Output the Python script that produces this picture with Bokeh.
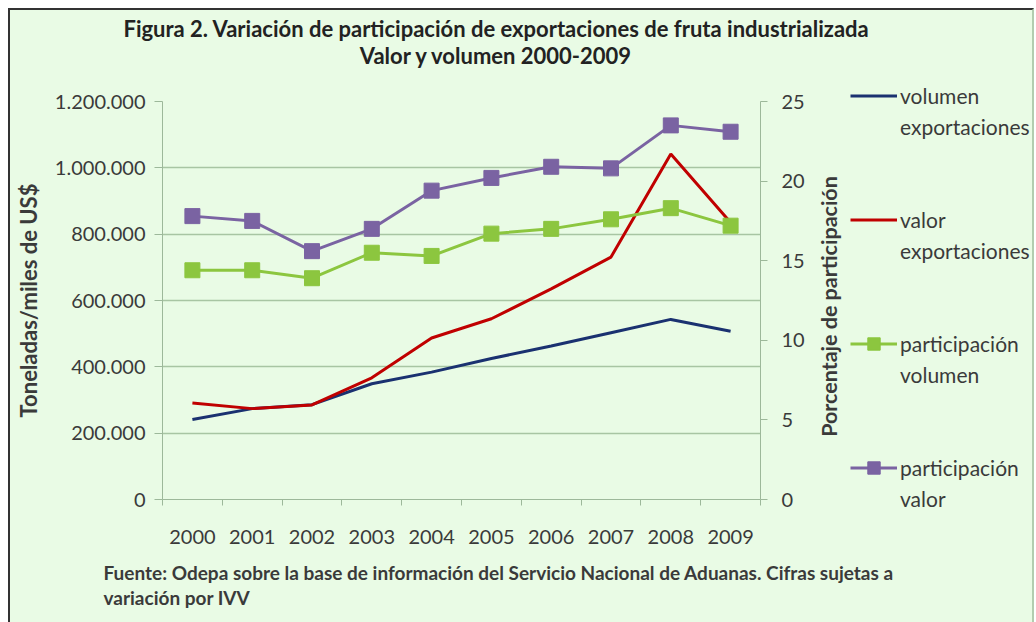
import math
from bokeh.plotting import figure
from bokeh.layouts import column, row
from bokeh.models import Range1d, LinearAxis, FixedTicker, Label, Legend, LegendItem, Plot
from bokeh.embed import file_html
from bokeh.resources import INLINE

# ---------------- data ----------------
years = ["2000", "2001", "2002", "2003", "2004", "2005", "2006", "2007", "2008", "2009"]
volumen_exportaciones = [241000, 274000, 286000, 349000, 384000, 425000, 463000, 503000, 543000, 507000]
valor_exportaciones = [291000, 274000, 285000, 367000, 487000, 545000, 635000, 731000, 1042000, 835000]
participacion_volumen = [14.4, 14.4, 13.9, 15.5, 15.3, 16.7, 17.0, 17.6, 18.3, 17.2]
participacion_valor = [17.8, 17.5, 15.6, 17.0, 19.4, 20.2, 20.9, 20.8, 23.5, 23.1]

left_ticks = [0, 200000, 400000, 600000, 800000, 1000000, 1200000]
left_tick_labels = ["0", "200.000", "400.000", "600.000", "800.000", "1.000.000", "1.200.000"]
right_ticks = [0, 5, 10, 15, 20, 25]

title_lines = ["Figura 2. Variación de participación de exportaciones de fruta industrializada",
               "Valor y volumen 2000-2009"]
footer_lines = ["Fuente: Odepa  sobre la  base de información del Servicio Nacional de Aduanas. Cifras sujetas a",
                "variación por IVV"]
y_label = "Toneladas/miles de US$"
y2_label = "Porcentaje de participación"
legend_labels = [("volumen", "exportaciones"), ("valor", "exportaciones"),
                 ("participación", "volumen"), ("participación", "valor")]

# ---------------- style ----------------
FONT = "Lato"
BG = "#E9FBE5"
TEXT = "#3A3A3A"
TITLE_C = "#222222"
GRID = "#A8C5A3"
AXIS = "#9DB89A"
C_VOL = "#1A3170"
C_VAL = "#C00000"
C_PVOL = "#8CC63F"
C_PVAL = "#7A63A2"

W_ALL = 1022
H_TOP, H_MID, H_BOT = 60, 485, 67
W_MAIN, W_LEG = 802, 220
HAS_FRAME_ALIGN = "frame_align" in Plot.properties()


def blank_fig(w, h):
    f = figure(frame_width=w, frame_height=h, output_backend="svg", toolbar_location=None,
               title=None, x_axis_type=None, y_axis_type=None,
               x_range=Range1d(0, w), y_range=Range1d(0, h),
               min_border=0, min_border_left=0, min_border_right=0, min_border_top=0,
               min_border_bottom=0, background_fill_color=BG, border_fill_color=BG,
               outline_line_color=None)
    f.xgrid.visible = False
    f.ygrid.visible = False
    if HAS_FRAME_ALIGN:
        f.frame_align = False
    return f


# ---------------- title strip ----------------
top = blank_fig(W_ALL, H_TOP)
for txt, yy in zip(title_lines, [42, 15]):
    top.add_layout(Label(x=486, y=yy, text=txt, text_align="center", text_baseline="middle",
                         text_font=FONT, text_font_style="bold", text_font_size="22px",
                         text_color=TITLE_C))

# ---------------- main chart ----------------
x = list(range(len(years)))

p = figure(width=W_MAIN, height=H_MID, output_backend="svg", toolbar_location=None, title=None,
           x_range=Range1d(-0.5, len(years) - 0.5), y_range=Range1d(0, 1200000),
           min_border_left=152, min_border_right=52, min_border_top=31, min_border_bottom=56,
           background_fill_color=BG, border_fill_color=BG, outline_line_color=None)
if HAS_FRAME_ALIGN:
    p.frame_align = False
p.extra_y_ranges = {"pct": Range1d(0, 25)}

lt = FixedTicker(ticks=left_ticks)
p.yaxis.ticker = lt
p.ygrid.ticker = lt
p.yaxis.major_label_overrides = dict(zip(left_ticks, left_tick_labels))
p.yaxis.axis_label = y_label
p.yaxis.axis_label_text_font = FONT
p.yaxis.axis_label_text_font_style = "bold"
p.yaxis.axis_label_text_font_size = "22px"
p.yaxis.axis_label_text_color = TEXT
p.yaxis.axis_label_standoff = 10
p.yaxis.major_label_text_font = FONT
p.yaxis.major_label_text_font_size = "20px"
p.yaxis.major_label_text_color = TEXT
p.yaxis.major_tick_out = 8
p.yaxis.major_tick_in = 0
p.yaxis.major_label_standoff = 9
p.yaxis.minor_tick_line_color = None
p.yaxis.axis_line_color = AXIS
p.yaxis.major_tick_line_color = AXIS

p.xaxis.ticker = FixedTicker(ticks=x, minor_ticks=[i - 0.5 for i in range(len(years) + 1)])
p.xaxis.major_label_overrides = {i: yr for i, yr in enumerate(years)}
p.xaxis.major_tick_line_color = None
p.xaxis.major_tick_out = 0
p.xaxis.major_tick_in = 0
p.xaxis.minor_tick_in = 0
p.xaxis.minor_tick_out = 6
p.xaxis.minor_tick_line_color = AXIS
p.xaxis.axis_line_color = AXIS
p.xaxis.major_label_standoff = 24
p.xaxis.major_label_text_font = FONT
p.xaxis.major_label_text_font_size = "20px"
p.xaxis.major_label_text_color = TEXT

ax2 = LinearAxis(y_range_name="pct", ticker=FixedTicker(ticks=right_ticks),
                 major_label_text_font=FONT, major_label_text_font_size="20px",
                 major_label_text_color=TEXT, major_tick_out=7, major_tick_in=0,
                 major_label_standoff=14, minor_tick_line_color=None,
                 axis_line_color=AXIS, major_tick_line_color=AXIS)
p.add_layout(ax2, "right")

p.ygrid.grid_line_color = GRID
p.ygrid.grid_line_width = 1.5
p.xgrid.grid_line_color = None

p.line(x, volumen_exportaciones, line_color=C_VOL, line_width=3)
p.line(x, valor_exportaciones, line_color=C_VAL, line_width=3)
p.line(x, participacion_volumen, y_range_name="pct", line_color=C_PVOL, line_width=3)
p.scatter(x, participacion_volumen, y_range_name="pct", marker="square", size=15,
          fill_color=C_PVOL, line_color=C_PVOL)
p.line(x, participacion_valor, y_range_name="pct", line_color=C_PVAL, line_width=3)
p.scatter(x, participacion_valor, y_range_name="pct", marker="square", size=15,
          fill_color=C_PVAL, line_color=C_PVAL)

# ---------------- right-axis title + legend strip ----------------
leg = blank_fig(W_LEG, H_MID)
leg.add_layout(Label(x=16, y=H_MID - 236, text=y2_label, angle=math.pi / 2,
                     text_align="center", text_baseline="middle", text_font=FONT,
                     text_font_style="bold", text_font_size="21.5px", text_color=TEXT))

# legend proxies: placed outside the visible strip so only their legend keys show
OFF = [-50, -40]
e1 = leg.line(OFF, OFF, line_color=C_VOL, line_width=3)
e2 = leg.line(OFF, OFF, line_color=C_VAL, line_width=3)
e3 = leg.line(OFF, OFF, line_color=C_PVOL, line_width=3)
e3m = leg.scatter(OFF, OFF, marker="square", size=15, fill_color=C_PVOL, line_color=C_PVOL)
e4 = leg.line(OFF, OFF, line_color=C_PVAL, line_width=3)
e4m = leg.scatter(OFF, OFF, marker="square", size=15, fill_color=C_PVAL, line_color=C_PVAL)
blank = leg.line([], [], line_alpha=0)

series_renderers = [[e1], [e2], [e3, e3m], [e4, e4m]]
items = []
for k, ((first, second), rends) in enumerate(zip(legend_labels, series_renderers)):
    items.append(LegendItem(label=first, renderers=rends))
    items.append(LegendItem(label=second, renderers=[blank]))
    if k < len(legend_labels) - 1:
        items.append(LegendItem(label=" ", renderers=[blank]))
        items.append(LegendItem(label="  ", renderers=[blank]))

ITEM_H = 31
legend_h = ITEM_H * len(items)
legend = Legend(items=items, location=(38, H_MID - 9.5 - legend_h), orientation="vertical",
                background_fill_alpha=0, border_line_color=None, padding=0, margin=0,
                spacing=0, glyph_width=47, glyph_height=ITEM_H, label_height=ITEM_H,
                label_standoff=3, label_text_font=FONT, label_text_font_size="21px",
                label_text_color=TEXT)
leg.add_layout(legend)

# ---------------- footer strip ----------------
bot = blank_fig(W_ALL, H_BOT)
for txt, yy in zip(footer_lines, [50, 25]):
    bot.add_layout(Label(x=93, y=yy, text=txt, text_align="left", text_baseline="middle",
                         text_font=FONT, text_font_style="bold", text_font_size="19px",
                         text_color=TEXT))

layout = column(top, row(p, leg, spacing=0), bot, spacing=0)
layout.styles = {"margin-left": "8px", "margin-top": "8px", "background-color": BG,
                 "border-left": "2px solid #333333", "border-top": "2px solid #333333",
                 "border-right": "2px solid #B3CDB0"}

open("out.html", "w").write(file_html(layout, INLINE))
